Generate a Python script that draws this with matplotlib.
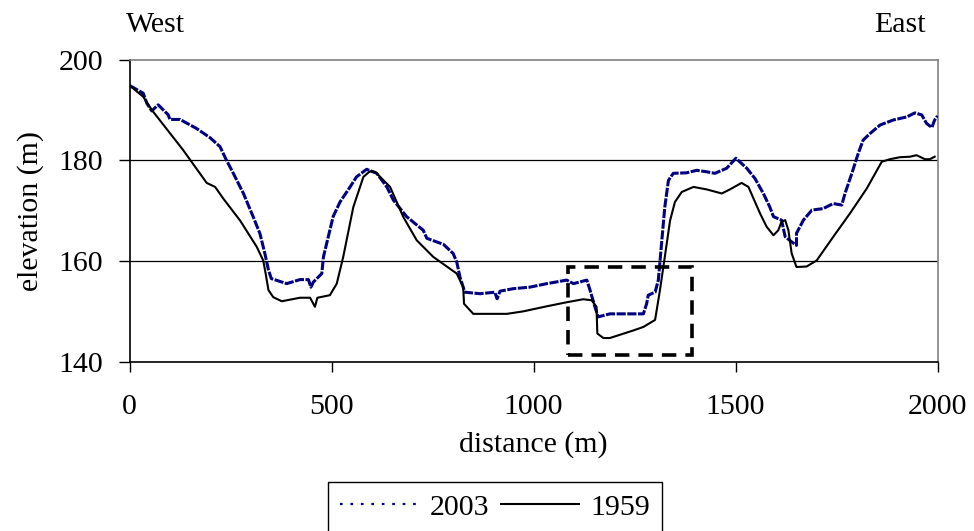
"""
Elevation profile West -> East, 1959 vs 2003 survey.
Output: out.png
"""

import matplotlib.pyplot as plt
from matplotlib.lines import Line2D
from matplotlib.patches import Rectangle

plt.rcParams["font.family"] = ["Liberation Serif", "DejaVu Serif"]
FS = 21.5

# ── data ───────────────────────────────────────────────────────────────────────
dist_2003 = [1, 34, 43, 55, 71, 96, 100, 125, 166, 199,
             224, 240, 257, 282, 306, 323, 335, 344, 351, 389,
             422, 443, 449, 455, 476, 480, 492, 504, 521, 546,
             562, 587, 612, 637, 653, 686, 727, 736, 777, 801,
             810, 818, 830, 868, 904, 910, 917, 950, 991, 1033,
             1082, 1099, 1132, 1140, 1152, 1160, 1189, 1272, 1280, 1284,
             1301, 1309, 1317, 1325, 1334, 1346, 1379, 1404, 1429, 1449,
             1478, 1501, 1528, 1548, 1569, 1585, 1594, 1614, 1623, 1639,
             1651, 1651, 1668, 1689, 1717, 1742, 1763, 1771, 1788, 1804,
             1816, 1833, 1858, 1891, 1924, 1944, 1961, 1973, 1986, 1993,
             2000]
elev_2003 = [194.8, 193.3, 191.3, 189.8, 191, 189, 188.1, 188.1, 186.3, 184.5,
             182.7, 180, 177.4, 173.4, 168.8, 165.4, 161.5, 158.2, 156.5, 155.5,
             156.3, 156.3, 154.8, 155.8, 157.5, 160.8, 164.8, 168.8, 171.7, 174.7,
             176.7, 178.2, 177.4, 174.7, 172.1, 168.8, 166.1, 164.5, 163.3, 161.5,
             159.8, 156.8, 153.8, 153.5, 153.8, 152.5, 154, 154.5, 154.8, 155.5,
             156.2, 155.5, 156.2, 154.2, 150.9, 148.9, 149.5, 149.5, 151.5, 153.2,
             153.8, 156.2, 163.5, 170.7, 176, 177.4, 177.5, 178, 177.7, 177.4,
             178.4, 180.4, 178.4, 176.4, 173.4, 170.7, 168.8, 168.1, 164.8, 163.8,
             163.1, 165.5, 168.1, 170.1, 170.4, 171.4, 171.1, 173.4, 177.4, 181.4,
             184, 185.3, 187, 188, 188.6, 189.4, 189, 187.3, 186.5, 188,
             188.8]

dist_1959 = [1, 34, 55, 133, 191, 212, 232, 274, 315, 331,
             337, 344, 356, 377, 422, 447, 459, 465, 496, 513,
             529, 554, 579, 595, 608, 645, 678, 711, 752, 810,
             826, 828, 851, 934, 975, 1033, 1082, 1123, 1144, 1156,
             1158, 1173, 1189, 1247, 1272, 1301, 1313, 1325, 1338, 1350,
             1367, 1396, 1429, 1466, 1486, 1515, 1532, 1561, 1577, 1594,
             1606, 1614, 1623, 1631, 1639, 1651, 1676, 1701, 1742, 1783,
             1825, 1862, 1882, 1907, 1932, 1948, 1969, 1981, 1993]
elev_1959 = [194.8, 192.6, 190, 182, 175.5, 174.7, 172.4, 168, 162.8, 160.1,
             157.5, 154.2, 152.8, 152, 152.7, 152.7, 150.9, 152.7, 153.2, 155.5,
             160.8, 170.7, 176.7, 177.8, 177.7, 174.7, 168.7, 164.1, 160.8, 157.5,
             154.8, 151.5, 149.5, 149.5, 150, 151, 151.8, 152.4, 152.2, 150.9,
             145.6, 144.7, 144.7, 146.2, 146.9, 148.3, 154.2, 160.8, 168, 171.7,
             173.7, 174.7, 174.2, 173.4, 174.2, 175.5, 174.7, 169.4, 166.8, 165.1,
             166.1, 167.8, 168.1, 166.1, 161.5, 158.8, 158.9, 160.1, 164.8, 169.4,
             174.4, 179.7, 180.2, 180.6, 180.7, 181, 180.2, 180.2, 180.7]

# highlighted zone (distance range, elevation range)
zone_dist = [1086, 1393]
zone_elev = [141.3, 158.8]

x_ticks = [0, 500, 1000, 1500, 2000]
y_ticks = [140, 160, 180, 200]

# ── plot ───────────────────────────────────────────────────────────────────────
fig = plt.figure(figsize=(9.74, 5.31), dpi=100)
ax = fig.add_axes([129.5 / 974, 1 - 361.7 / 531, 808 / 974, 302.2 / 531])

ax.plot(dist_2003, elev_2003, color="#000080", lw=2.2,
        linestyle=(0, (3.0, 0.5)), zorder=3)
ax.plot(dist_1959, elev_1959, color="black", lw=1.5, zorder=4)

ax.add_patch(Rectangle((zone_dist[0], zone_elev[0]),
                       zone_dist[1] - zone_dist[0], zone_elev[1] - zone_elev[0],
                       fill=False, edgecolor="black", lw=2.6,
                       linestyle=(0, (4, 2.5)), zorder=5))

ax.set_xlim(0, 2000)
ax.set_ylim(140, 200)
ax.set_xticks(x_ticks)
ax.set_yticks(y_ticks)
ax.tick_params(axis="both", labelsize=FS, direction="out", width=1, color="black")
ax.tick_params(axis="x", length=7, pad=16)
ax.tick_params(axis="y", length=8, pad=11)

ax.yaxis.grid(True, color="black", lw=0.9)
ax.set_axisbelow(True)
gl = ax.get_ygridlines()
gl[0].set_visible(False)
gl[-1].set_visible(False)

ax.spines[["left", "bottom"]].set_color("black")
ax.spines[["left", "bottom"]].set_linewidth(1.2)
ax.spines[["top", "right"]].set_color("#808080")
ax.spines[["top", "right"]].set_linewidth(1.2)

ax.set_xlabel("distance (m)", fontsize=FS, labelpad=8)
ax.set_ylabel("elevation (m)", fontsize=FS, labelpad=10)

fig.text(156 / 974, 1 - 25 / 531, "West", fontsize=FS, ha="center", va="center")
fig.text(900 / 974, 1 - 25 / 531, "East", fontsize=FS, ha="center", va="center")

handles = [Line2D([], [], color="#000080", lw=1.6, linestyle=(0, (1.2, 3.5))),
           Line2D([], [], color="black", lw=1.5)]
fig.legend(handles, ["2003", "1959"], loc="upper left",
           bbox_to_anchor=(328 / 974, 1 - 482 / 531), borderaxespad=0,
           ncol=2, fontsize=FS, handlelength=2.6, handletextpad=0.4,
           columnspacing=0.4, borderpad=0.4, fancybox=False,
           edgecolor="black", framealpha=1).get_frame().set_linewidth(1.0)

fig.savefig("out.png", dpi=100)
